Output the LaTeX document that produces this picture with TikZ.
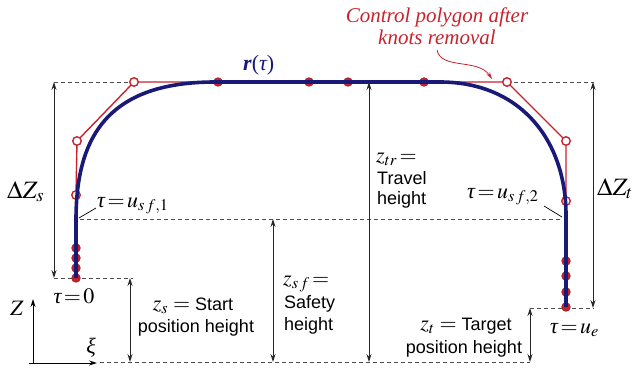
\documentclass[tikz,border=0pt]{standalone}
\usepackage{mathptmx}
\usepackage[no-math]{fontspec}
\setsansfont{Liberation Sans}
\newfontfamily\redserif{Liberation Serif}
\newcommand{\gtau}{\mbox{\redserif\itshape τ}}
\newcommand{\gxi}{\mbox{\redserif\itshape ξ}}
\usetikzlibrary{arrows.meta}
\definecolor{cblue}{RGB}{25,25,120}
\definecolor{cred}{RGB}{200,35,45}
\begin{document}
\begin{tikzpicture}[x=1pt,y=-1pt,
  dim/.style={draw=black!85, line width=0.9pt, {Stealth[length=8pt,width=5pt]}-{Stealth[length=8pt,width=5pt]}},
  axis/.style={draw=black, line width=0.9pt, -{Stealth[length=8pt,width=5pt]}},
  guide/.style={draw=black!70, line width=0.8pt, dash pattern=on 4pt off 3pt},
  poly/.style={draw=cred, line width=1.4pt},
  curve/.style={draw=cblue, line width=3.6pt},
  knot/.style={circle, fill=cred, draw=cred!85!black, line width=0.8pt, inner sep=0pt, minimum size=8.5pt},
  ctrl/.style={circle, fill=white, draw=cred, line width=1.4pt, inner sep=0pt, minimum size=8.5pt},
  mlbl/.style={font=\fontsize{22}{26}\selectfont, inner sep=0pt},
  dlbl/.style={font=\fontsize{25}{28}\selectfont, inner sep=0pt},
  slbl/.style={font=\fontsize{18}{21}\selectfont\sffamily, inner sep=0pt},
  rlbl/.style={font=\fontsize{21}{24}\selectfont\redserif\itshape, text=cred, inner sep=0pt},
  leader/.style={draw=black, line width=0.7pt}]
\useasboundingbox (0,0) rectangle (634,372);
\clip (0,0) rectangle (634,372);

% polygon vertices / knots
\coordinate (p0) at (76,278);
\coordinate (k1) at (76,268);
\coordinate (k2) at (76,258);
\coordinate (k3) at (76,248);
\coordinate (c1) at (76,195);
\coordinate (c2) at (77,141);
\coordinate (c3) at (134,82);
\coordinate (t1) at (218,82);
\coordinate (t2) at (309,82);
\coordinate (t3) at (348,82);
\coordinate (t4) at (424,82);
\coordinate (c4) at (507,82);
\coordinate (c5) at (566,141);
\coordinate (c6) at (566,201);
\coordinate (e3) at (566,261);
\coordinate (e2) at (566,276);
\coordinate (e1) at (566,292);
\coordinate (pe) at (566,307);

% guide end points
\coordinate (gtl) at (54,82);
\coordinate (gtr) at (594,82);
\coordinate (gs1) at (80,219);
\coordinate (gs2) at (562,219);
\coordinate (gz1) at (54,278);
\coordinate (gz2) at (133,278);
\coordinate (gt1) at (530,308);
\coordinate (gt2) at (594,308);
\coordinate (gg1) at (100,362);
\coordinate (gg2) at (530,362);

% dashed guides
\draw[guide] (gtl) -- (c3);
\draw[guide] (c4) -- (gtr);
\draw[guide] (gs1) -- (gs2);
\draw[guide] (gz1) -- (gz2);
\draw[guide] (gt1) -- (gt2);
\draw[guide] (gg1) -- (gg2);

% dimension arrows
\coordinate (dzs1) at (54,82);   \coordinate (dzs2) at (54,278);
\coordinate (zs1) at (130,278);  \coordinate (zs2) at (130,362);
\coordinate (zsf1) at (273,219); \coordinate (zsf2) at (273,362);
\coordinate (ztr1) at (369,82);  \coordinate (ztr2) at (369,362);
\coordinate (dzt1) at (593,82);  \coordinate (dzt2) at (593,308);
\coordinate (zt1) at (530,308);  \coordinate (zt2) at (530,362);
\draw[dim] (dzs1) -- (dzs2);
\draw[dim] (zs1) -- (zs2);
\draw[dim] (zsf1) -- (zsf2);
\draw[dim] (ztr1) -- (ztr2);
\draw[dim] (dzt1) -- (dzt2);
\draw[dim] (zt1) -- (zt2);

% axes
\coordinate (o) at (33,363);
\coordinate (ax) at (97,363);
\coordinate (az) at (33,299);
\draw[axis] (o) -- (az);
\draw[axis] ([xshift=-4pt]o) -- (ax);

% control polygon
\draw[poly] (p0) -- (c1) -- (c2) -- (c3) -- (c4) -- (c5) -- (pe);
\foreach \n in {p0,k1,k2,k3,t1,t2,t3,t4,e1,e2,e3,pe} \node[knot] (n\n) at (\n) {};
\foreach \n in {c1,c2,c3,c4,c5,c6} \node[ctrl] (n\n) at (\n) {};

% trajectory
\draw[curve] (p0) -- (76,220) .. controls (76,140) and (105,82) .. (215,82)
  -- (440,82) .. controls (520,82) and (566,140) .. (566,215) -- (pe);

% leaders
\coordinate (l1a) at (79,218); \coordinate (l1b) at (96,208);
\coordinate (l2a) at (544,206); \coordinate (l2b) at (562,217);
\draw[leader] (l1a) -- (l1b);
\draw[leader] (l2a) -- (l2b);

% red callout
\node[rlbl, anchor=base] (cp1) at (437,23) {Control polygon after};
\node[rlbl, anchor=base] (cp2) at (437,44) {knots removal};
\coordinate (cpa) at (437,50);
\coordinate (cpb) at (492,79);
\draw[draw=cred, line width=0.8pt, -{Stealth[length=7pt,width=4pt]}] (cpa) .. controls (441,70) and (478,58) .. (cpb);

% labels
\node[mlbl, anchor=base west, text=cblue] (rt) at (243,70) {\redserif{\bfseries\itshape r}(\itshape τ\upshape)};
\node[dlbl, anchor=base west] (dzs) at (7,198) {$\Delta Z_s$};
\node[dlbl, anchor=base west] (dzt) at (597,195) {$\Delta Z_t$};
\node[mlbl, anchor=base] (tau0) at (74,303) {$\gtau\!=\!0$};
\node[mlbl, anchor=base west] (tsf1) at (97,207) {$\gtau\!=\!u_{s\,f,1}$};
\node[mlbl, anchor=base west] (tsf2) at (467,198) {$\gtau\!=\!u_{s\,f,2}$};
\node[mlbl, anchor=base west] (tue) at (550,333) {$\gtau\!=\!u_e$};
\node[mlbl, anchor=base] (Zl) at (17,315) {$Z$};
\node[mlbl, anchor=base] (xil) at (91,353) {$\gxi$};

\node[slbl, anchor=base] (zs1l) at (193,310) {{\fontsize{22}{24}\selectfont$z_s =$} Start};
\node[slbl, anchor=base] (zs2l) at (196,332) {position height};

\node[slbl, anchor=base west] (zsf1l) at (283,285) {{\fontsize{22}{24}\selectfont$z_{s\,f}\!=$}};
\node[slbl, anchor=base west] (zsf2l) at (284,308) {Safety};
\node[slbl, anchor=base west] (zsf3l) at (284,330) {height};

\node[slbl, anchor=base west] (ztr1l) at (376,162) {{\fontsize{22}{24}\selectfont$z_{tr}\!=$}};
\node[slbl, anchor=base west] (ztr2l) at (377,184) {Travel};
\node[slbl, anchor=base west] (ztr3l) at (377,204) {height};

\node[slbl, anchor=base] (zt1l) at (466,330) {{\fontsize{22}{24}\selectfont$z_t =$} Target};
\node[slbl, anchor=base] (zt2l) at (464,353) {position height};
\end{tikzpicture}
\end{document}
